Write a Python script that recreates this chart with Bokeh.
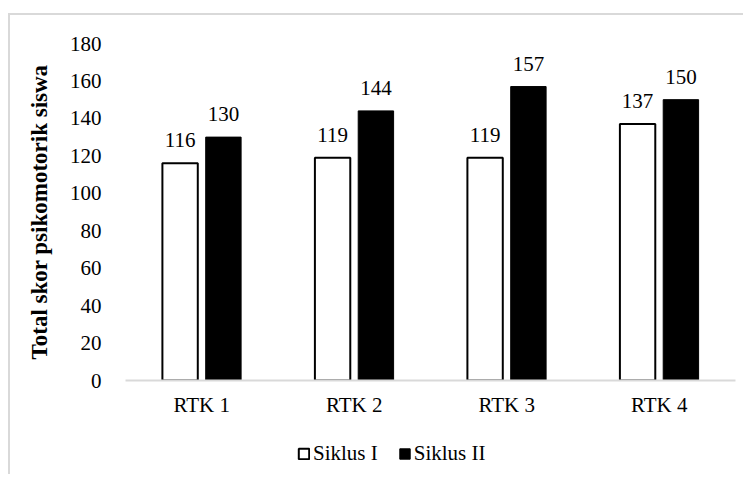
from bokeh.plotting import figure
from bokeh.layouts import column
from bokeh.models import (ColumnDataSource, FixedTicker, Range1d, Legend, LegendItem)
from bokeh.transform import dodge
from bokeh.embed import file_html
from bokeh.resources import INLINE
from bokeh.core.properties import value

categories = ["RTK 1", "RTK 2", "RTK 3", "RTK 4"]
siklus_1 = [116, 119, 119, 137]
siklus_2 = [130, 144, 157, 150]
y_ticks = [0, 20, 40, 60, 80, 100, 120, 140, 160, 180]
series_names = ["Siklus I", "Siklus II"]

FONT = "Liberation Serif"
FS = "21px"

src = ColumnDataSource(dict(
    cat=categories,
    s1=siklus_1,
    s2=siklus_2,
    s1_lbl=[str(v) for v in siklus_1],
    s2_lbl=[str(v) for v in siklus_2],
))

p = figure(x_range=categories, y_range=Range1d(0, 180),
           width=743, height=430, output_backend="svg", toolbar_location=None,
           min_border_left=125, min_border_right=8, min_border_top=43,
           min_border_bottom=50)
p.outline_line_color = None
p.background_fill_color = "white"
p.border_fill_alpha = 0
p.xgrid.grid_line_color = None
p.ygrid.grid_line_color = None

off = 0.142
w = 0.232
p.vbar(x=dodge("cat", -off, range=p.x_range), top="s1", width=w, source=src,
       fill_color="white", line_color="black", line_width=2)
p.vbar(x=dodge("cat", off, range=p.x_range), top="s2", width=w, source=src,
       fill_color="black", line_color="black", line_width=1)

p.text(x=dodge("cat", -off, range=p.x_range), y="s1", text="s1_lbl", source=src,
       text_font=value(FONT), text_font_size=FS, text_align="center",
       text_baseline="alphabetic", y_offset=-23, text_color="black")
p.text(x=dodge("cat", off, range=p.x_range), y="s2", text="s2_lbl", source=src,
       text_font=value(FONT), text_font_size=FS, text_align="center",
       text_baseline="alphabetic", y_offset=-23, text_color="black")

p.xaxis.axis_line_color = "#d9d9d9"
p.xaxis.axis_line_width = 2
p.xaxis.major_tick_line_color = None
p.xaxis.minor_tick_line_color = None
p.xaxis.major_label_text_font = FONT
p.xaxis.major_label_text_font_size = FS
p.xaxis.major_label_text_color = "black"
p.xaxis.major_label_standoff = 6

p.yaxis.ticker = FixedTicker(ticks=y_ticks)
p.yaxis.axis_line_color = None
p.yaxis.major_tick_line_color = None
p.yaxis.minor_tick_line_color = None
p.yaxis.major_label_text_font = FONT
p.yaxis.major_label_text_font_size = FS
p.yaxis.major_label_text_color = "black"
p.yaxis.major_label_standoff = 18
p.yaxis.axis_label = "Total skor psikomotorik siswa"
p.yaxis.axis_label_text_font = FONT
p.yaxis.axis_label_text_font_size = "23px"
p.yaxis.axis_label_text_font_style = "bold"
p.yaxis.axis_label_text_color = "black"
p.yaxis.axis_label_standoff = 15

# legend strip below the chart: its bars have zero size, so only the
# legend swatches are seen
lg = figure(width=743, height=44, x_range=Range1d(0, 200), y_range=Range1d(0, 200),
            output_backend="svg", toolbar_location=None,
            x_axis_type=None, y_axis_type=None,
            min_border_left=125, min_border_right=8, min_border_top=0, min_border_bottom=0)
lg.outline_line_color = None
lg.background_fill_alpha = 0
lg.border_fill_alpha = 0
lg.xgrid.grid_line_color = None
lg.ygrid.grid_line_color = None
d1 = lg.vbar(x="s1", bottom="s1", top="s1", width=0, source=src,
             fill_color="white", line_color="black", line_width=2)
d2 = lg.vbar(x="s2", bottom="s2", top="s2", width=0, source=src,
             fill_color="black", line_color="black", line_width=1)
legend = Legend(items=[LegendItem(label=series_names[0], renderers=[d1]),
                       LegendItem(label=series_names[1], renderers=[d2])],
                orientation="horizontal", location=(172, 8),
                glyph_width=13, glyph_height=13, label_standoff=3, spacing=20,
                padding=0, margin=0, border_line_color=None,
                background_fill_alpha=0,
                label_text_font=FONT, label_text_font_size=FS,
                label_text_color="black")
lg.add_layout(legend, "center")

layout = column(p, lg, spacing=0)
layout.styles = {
    "background-color": "white",
    "background-image": "linear-gradient(#d9d9d9,#d9d9d9), linear-gradient(#d9d9d9,#d9d9d9)",
    "background-position": "8px 13px, 8px 13px",
    "background-size": "2px 2000px, 2000px 2px",
    "background-repeat": "no-repeat",
}

open("out.html", "w").write(file_html(layout, INLINE))
